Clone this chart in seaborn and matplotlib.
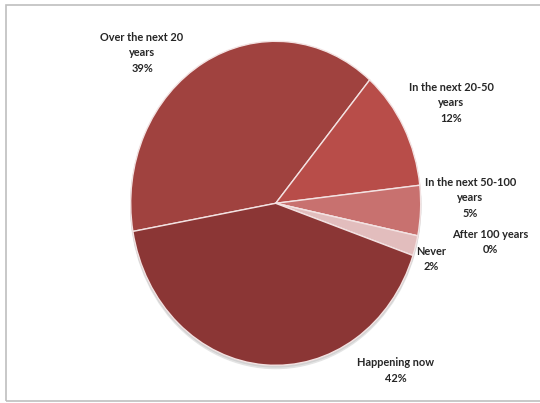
import matplotlib
matplotlib.use("Agg")
import matplotlib.pyplot as plt
from matplotlib.patches import Ellipse, Rectangle
import seaborn as sns

labels = ["Over the next 20\nyears", "In the next 20-50\nyears", "In the next 50-100\nyears",
          "After 100 years", "Never", "Happening now"]
values = [39, 12, 5, 0, 2, 42]
colors = ["#A0423F", "#B84D49", "#C8716F", "#D9A5A4", "#E2BDBD", "#8B3635"]

# label anchor points in pixels (centre of each text block)
label_px = [(142, 53), (451, 103), (470.5, 198), (490, 242), (431.5, 259), (395.5, 370.5)]

sns.set_theme(style="white")
plt.rcParams["font.family"] = ["Lato", "DejaVu Sans"]

W, H = 540, 403
cx, cy, rx, ry = 275.7, 203.3, 145, 162

fig = plt.figure(figsize=(W / 100, H / 100), dpi=100)
ax = fig.add_axes([0, 0, 1, 1])

# soft shadow under the pie
ax.add_patch(Ellipse((0.0, -0.02), 2.0, 2.0, color="#E4E4E4", zorder=0))
ax.add_patch(Ellipse((0.0, -0.01), 2.0, 2.0, color="#D2D2D2", zorder=0))
ax.pie(values, colors=colors, startangle=190, counterclock=False,
       wedgeprops=dict(edgecolor="#F3E2E2", linewidth=1.0))

ax.set_aspect("auto")
ax.set_xlim(-cx / rx, (W - cx) / rx)
ax.set_ylim((cy - H) / ry, cy / ry)
ax.axis("off")

for lab, val, (px, py) in zip(labels, values, label_px):
    ax.text((px - cx) / rx, (cy - py) / ry, f"{lab}\n{val}%", ha="center", va="center",
            fontsize=7.9, fontweight="bold", color="#262626", linespacing=1.55)

fig.patches.append(Rectangle((6 / W, 2 / H), 1.0, 396 / H, transform=fig.transFigure,
                             fill=False, edgecolor="#BFBFBF", linewidth=1.2))

fig.savefig("out.png", dpi=100)
